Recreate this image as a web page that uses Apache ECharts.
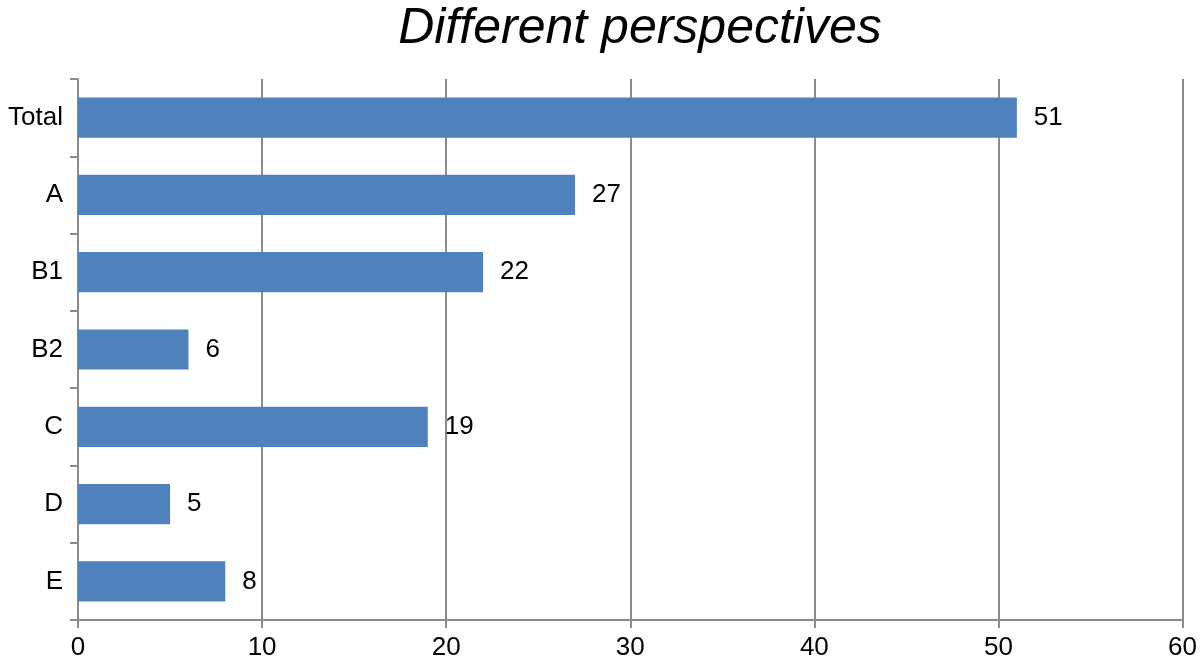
<!DOCTYPE html>
<html>
<head>
<meta charset="utf-8">
<script src="https://cdn.jsdelivr.net/npm/echarts@6/dist/echarts.min.js"></script>
<style>html,body{margin:0;padding:0;background:#fff}#c{width:1200px;height:663px}</style>
</head>
<body>
<div id="c"></div>
<script>
const categories = ["Total", "A", "B1", "B2", "C", "D", "E"];
const values = [51, 27, 22, 6, 19, 5, 8];
const xTicks = [0, 10, 20, 30, 40, 50, 60];
const titleText = "Different perspectives";

const chart = echarts.init(document.getElementById('c'));
const axisColor = '#8c8c8c';
const font = 'Liberation Sans, Arial, sans-serif';
chart.setOption({
  animation: false,
  backgroundColor: '#ffffff',
  title: {
    text: titleText,
    left: 635, top: -1, textAlign: 'center',
    textStyle: { fontFamily: font, fontStyle: 'italic', fontWeight: 'normal', fontSize: 50, color: '#000' }
  },
  grid: { left: 78, right: 17, top: 79, bottom: 43, containLabel: false },
  xAxis: {
    type: 'value', min: xTicks[0], max: xTicks[xTicks.length - 1], interval: 10,
    axisLine: { show: true, lineStyle: { color: axisColor, width: 2 } },
    axisTick: { show: true, length: 8, lineStyle: { color: axisColor, width: 2 } },
    splitLine: { show: true, lineStyle: { color: axisColor, width: 2 } },
    axisLabel: { fontFamily: font, fontSize: 26, color: '#000', margin: 15 }
  },
  yAxis: {
    type: 'category', data: categories, inverse: true,
    axisLine: { show: true, lineStyle: { color: axisColor, width: 2 } },
    axisTick: { show: true, length: 8, alignWithLabel: false, lineStyle: { color: axisColor, width: 2 } },
    splitLine: { show: false },
    axisLabel: { fontFamily: font, fontSize: 26, color: '#000', margin: 15 }
  },
  series: [{
    type: 'bar', data: values, barWidth: '52%',
    itemStyle: { color: '#4F81BD' },
    label: { show: true, position: 'right', distance: 17, fontFamily: font, fontSize: 26, color: '#000' }
  }]
});
</script>
</body>
</html>
